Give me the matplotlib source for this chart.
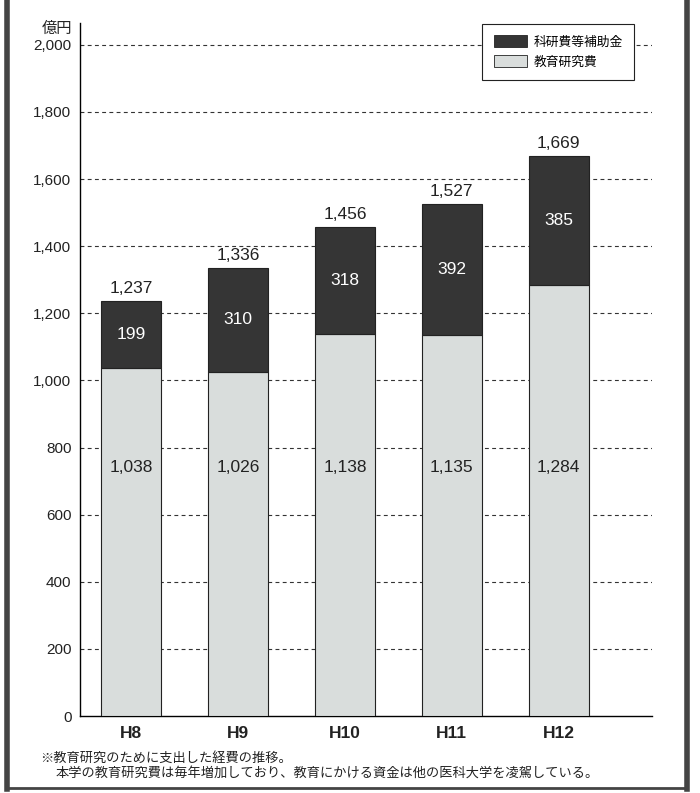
import matplotlib.pyplot as plt
from matplotlib.lines import Line2D
from matplotlib.patches import Patch

plt.rcParams['font.family'] = ['Liberation Sans', 'Noto Sans CJK JP', 'DejaVu Sans']

years = ["H8", "H9", "H10", "H11", "H12"]
kyoiku = [1038, 1026, 1138, 1135, 1284]   # 教育研究費
kaken = [199, 310, 318, 392, 385]         # 科研費等補助金
totals = [1237, 1336, 1456, 1527, 1669]
yticks = list(range(0, 2001, 200))

DARK = "#353535"
LIGHT = "#d9dddc"
INK = "#222222"

fig = plt.figure(figsize=(7.0, 7.93), dpi=100)
ax = fig.add_axes([0.114, 0.097, 0.817, 0.874])

x = list(range(len(years)))
width = 0.56
ax.bar(x, kyoiku, width, color=LIGHT, edgecolor=INK, linewidth=0.8, zorder=3)
ax.bar(x, kaken, width, bottom=kyoiku, color=DARK, edgecolor=INK,
       linewidth=0.8, zorder=3)

for i in x:
    ax.text(i, 740, f"{kyoiku[i]:,}", ha="center", va="center", fontsize=12.5,
            color=INK, zorder=4)
    ax.text(i, kyoiku[i] + kaken[i] / 2, f"{kaken[i]:,}", ha="center",
            va="center", fontsize=12.5, color="white", zorder=4)
    ax.text(i, totals[i] + 15, f"{totals[i]:,}", ha="center", va="bottom",
            fontsize=12.5, color=INK, zorder=4)

ax.set_xlim(-0.48, 4.87)
ax.set_ylim(0, 2065)
ax.set_yticks(yticks)
ax.set_yticklabels([f"{v:,}" for v in yticks], fontsize=11, color=INK)
ax.set_xticks(x)
ax.set_xticklabels(years, fontsize=12.5, fontweight="bold", color=INK)
ax.tick_params(axis="both", length=0, pad=6)
ax.tick_params(axis="x", pad=7)

for v in yticks[1:]:
    ax.axhline(v, color="#333333", linewidth=0.8, linestyle=(0, (3.5, 3)), zorder=1)

for s in ["top", "right"]:
    ax.spines[s].set_visible(False)
ax.spines["left"].set_linewidth(1.0)
ax.spines["bottom"].set_linewidth(1.0)

ax.text(-0.014, 2025, "億円", transform=ax.get_yaxis_transform(), ha="right",
        va="bottom", fontsize=11, color=INK)

handles = [Patch(facecolor=DARK, edgecolor=INK, linewidth=0.6),
           Patch(facecolor=LIGHT, edgecolor=INK, linewidth=0.6)]
leg = fig.legend(handles, ["科研費等補助金", "教育研究費"], loc="upper right",
                 bbox_to_anchor=(0.915, 0.978), fontsize=9.2, frameon=True,
                 fancybox=False, edgecolor=INK, framealpha=1,
                 handlelength=2.6, handleheight=1.0, borderpad=0.9,
                 labelspacing=0.55, handletextpad=0.5)
leg.get_frame().set_linewidth(0.8)
leg.set_zorder(5)

fig.text(0.057, 0.043, "※教育研究のために支出した経費の推移。", fontsize=9.5,
         color=INK, va="center")
fig.text(0.079, 0.025,
         "本学の教育研究費は毎年増加しており、教育にかける資金は他の医科大学を凌駕している。",
         fontsize=9.5, color=INK, va="center")

# page frame
fig.add_artist(Line2D([0.01, 0.01], [0.005, 1.0], color="#444444", linewidth=4))
fig.add_artist(Line2D([0.981, 0.981], [0.005, 1.0], color="#444444", linewidth=4))
fig.add_artist(Line2D([0.01, 0.981], [0.006, 0.006], color="#444444", linewidth=2))

fig.savefig("out.png", dpi=100)
